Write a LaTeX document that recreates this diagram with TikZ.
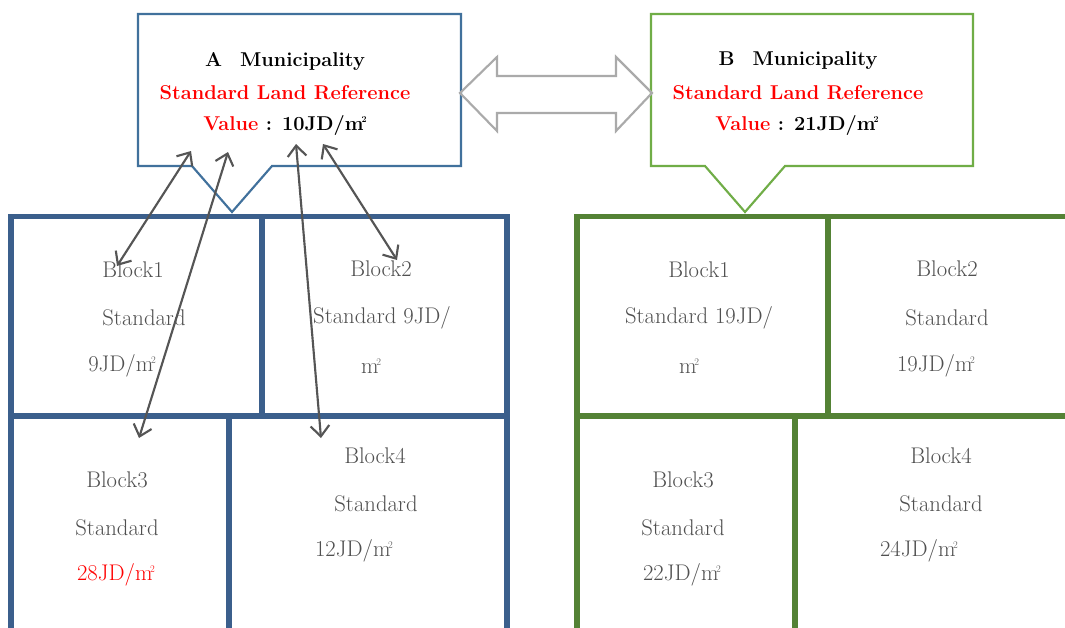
\documentclass[tikz,border=0pt]{standalone}
\usetikzlibrary{arrows.meta}
\definecolor{calloutA}{HTML}{41719C}
\definecolor{blockA}{HTML}{3B5F8C}
\definecolor{calloutB}{HTML}{70AD47}
\definecolor{blockB}{HTML}{548235}
\definecolor{txtgray}{HTML}{505050}
\definecolor{arrgray}{HTML}{555555}
\definecolor{dblgray}{HTML}{AAAAAA}
\newcommand\sqm{m\kern-0.1em\raisebox{0.8ex}{\scalebox{0.45}{2}}}
\tikzset{
  blk/.style={font=\fontsize{17}{20}\selectfont, text=txtgray, inner sep=0pt, anchor=center},
  hdr/.style={font=\fontsize{15}{18}\selectfont\bfseries, inner sep=0pt, anchor=center},
  wallA/.style={draw=blockA, line width=3.8pt},
  wallB/.style={draw=blockB, line width=3.8pt},
  link/.style={draw=arrgray, line width=1.6pt, {Straight Barb[length=8pt,width=14pt]}-{Straight Barb[length=8pt,width=14pt]}}
}
\begin{document}
\begin{tikzpicture}[x=0.75pt,y=-0.75pt]
\useasboundingbox (0,0) rectangle (1065,628);
\fill[white] (0,0) rectangle (1065,628);
% left blocks
\draw[wallA] (11,640) -- (11,216.5) -- (507,216.5) -- (507,640);
\draw[wallA] (11,416) -- (507,416);
\draw[wallA] (262,216.5) -- (262,416);
\draw[wallA] (229,416) -- (229,640);
% right blocks
\draw[wallB] (577,640) -- (577,216.5) -- (1075,216.5);
\draw[wallB] (577,416) -- (1075,416);
\draw[wallB] (828,216.5) -- (828,416);
\draw[wallB] (795,416) -- (795,640);
% callouts
\draw[calloutA, line width=1.6pt, fill=white, line join=miter] (138,14) -- (461,14) -- (461,166) -- (272,166) -- (232,212) -- (192,166) -- (138,166) -- cycle;
\draw[calloutB, line width=1.6pt, fill=white, line join=miter] (651,14) -- (973,14) -- (973,166) -- (785,166) -- (745,212) -- (705,166) -- (651,166) -- cycle;
% double arrow
\draw[dblgray, line width=1.6pt, line join=miter] (460,93) -- (497,57) -- (497,76) -- (616,76) -- (616,57) -- (652,93) -- (616,131) -- (616,113) -- (497,113) -- (497,131) -- cycle;
% header texts
\node[hdr] (aT) at (285,61) {A\hspace{0.9em}Municipality};
\node[hdr, text=red] (aS) at (285,93) {Standard Land Reference};
\node[hdr] (aV) at (285,125) {\textcolor{red}{Value} : 10JD/\sqm};
\node[hdr] (bT) at (798,61) {B\hspace{0.9em}Municipality};
\node[hdr, text=red] (bS) at (798,93) {Standard Land Reference};
\node[hdr] (bV) at (797,125) {\textcolor{red}{Value} : 21JD/\sqm};
% left block texts
\node[blk] (a1a) at (133,270) {Block1};
\node[blk] (a1b) at (144,318) {Standard};
\node[blk] (a1c) at (122,366) {9JD/\sqm};
\node[blk] (a2a) at (381,269) {Block2};
\node[blk] (a2b) at (382,318) {Standard 9JD/};
\node[blk] (a2c) at (371,366) {\sqm};
\node[blk] (a3a) at (117,480) {Block3};
\node[blk] (a3b) at (117,528) {Standard};
\node[blk, text=red] (a3c) at (116,575) {28JD/\sqm};
\node[blk] (a4a) at (375,456) {Block4};
\node[blk] (a4b) at (376,504) {Standard};
\node[blk] (a4c) at (354,551) {12JD/\sqm};
% right block texts
\node[blk] (b1a) at (699,270) {Block1};
\node[blk] (b1b) at (699,318) {Standard 19JD/};
\node[blk] (b1c) at (689,366) {\sqm};
\node[blk] (b2a) at (947,269) {Block2};
\node[blk] (b2b) at (947,318) {Standard};
\node[blk] (b2c) at (936,366) {19JD/\sqm};
\node[blk] (b3a) at (683,480) {Block3};
\node[blk] (b3b) at (683,528) {Standard};
\node[blk] (b3c) at (682,575) {22JD/\sqm};
\node[blk] (b4a) at (941,456) {Block4};
\node[blk] (b4b) at (941,504) {Standard};
\node[blk] (b4c) at (919,551) {24JD/\sqm};
% arrow end points
\coordinate (t1) at (191,151);
\coordinate (t2) at (228,152);
\coordinate (t3) at (296,144);
\coordinate (t4) at (323,144);
\coordinate (e1) at (117,266);
\coordinate (e2) at (139,438);
\coordinate (e3) at (321,438);
\coordinate (e4) at (397,260);
\draw[link] (t1) -- (e1);
\draw[link] (t2) -- (e2);
\draw[link] (t3) -- (e3);
\draw[link] (t4) -- (e4);
\end{tikzpicture}
\end{document}
